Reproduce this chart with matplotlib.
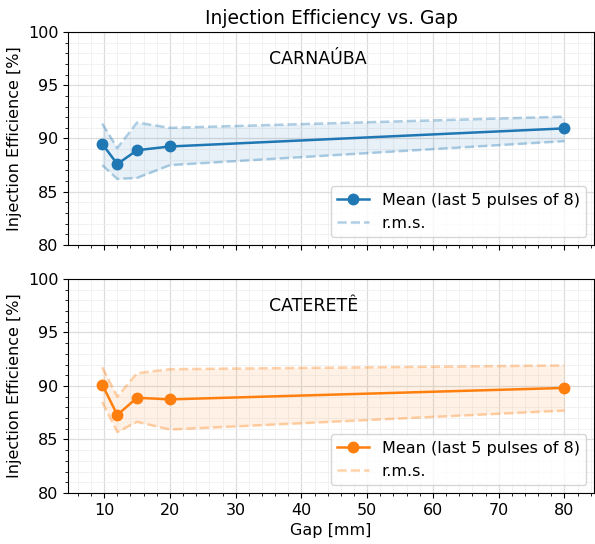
import matplotlib
matplotlib.use("Agg")
import matplotlib.pyplot as plt
from matplotlib.ticker import MultipleLocator

gap = [9.7, 12, 15, 20, 80]

carnauba_mean = [89.5, 87.6, 88.9, 89.25, 90.95]
carnauba_up = [91.4, 89.1, 91.5, 91.0, 92.05]
carnauba_lo = [87.5, 86.2, 86.3, 87.5, 89.75]

caterete_mean = [90.13, 87.3, 88.9, 88.75, 89.82]
caterete_up = [91.75, 89.0, 91.2, 91.57, 91.92]
caterete_lo = [88.5, 85.7, 86.65, 85.93, 87.7]

panels = [
    ("CARNAÚBA", carnauba_mean, carnauba_up, carnauba_lo, "tab:blue"),
    ("CATERETÊ", caterete_mean, caterete_up, caterete_lo, "tab:orange"),
]

fig = plt.figure(figsize=(5.95, 5.44), dpi=100)
W, H = 595, 544
axes = []
tops = [(32, 245), (279, 493)]
for i, (t, b) in enumerate(tops):
    ax = fig.add_axes([68 / W, 1 - b / H, (594 - 68) / W, (b - t) / H],
                      sharex=axes[0] if axes else None)
    axes.append(ax)

for ax, (name, mean, up, lo, col) in zip(axes, panels):
    ax.fill_between(gap, lo, up, color=col, alpha=0.1, lw=0)
    ax.plot(gap, mean, "-o", color=col, lw=1.8, ms=7.5,
            label="Mean (last 5 pulses of 8)", zorder=3)
    ax.plot(gap, up, "--", color=col, alpha=0.35, lw=1.8, label="r.m.s.")
    ax.plot(gap, lo, "--", color=col, alpha=0.35, lw=1.8)
    ax.set_ylim(80, 100)
    ax.set_xlim(4.5, 84.5)
    ax.yaxis.set_major_locator(MultipleLocator(5))
    ax.yaxis.set_minor_locator(MultipleLocator(1))
    ax.xaxis.set_major_locator(MultipleLocator(10))
    ax.xaxis.set_minor_locator(MultipleLocator(2))
    ax.grid(True, which="major", color="#dddddd", lw=0.9)
    ax.grid(True, which="minor", color="#f0f0f0", lw=0.6)
    ax.set_axisbelow(True)
    ax.tick_params(labelsize=11.5)
    ax.set_ylabel("Injection Efficience [%]", fontsize=11.5)
    ax.text(35, 97.5, name, ha="left", va="center", fontsize=12.5)
    ax.legend(loc="lower right", fontsize=11.5, framealpha=0.8)

axes[0].tick_params(labelbottom=False)
axes[0].set_title("Injection Efficiency vs. Gap", fontsize=13.5)
axes[1].set_xlabel("Gap [mm]", fontsize=11.5)

fig.savefig("out.png", dpi=100)
